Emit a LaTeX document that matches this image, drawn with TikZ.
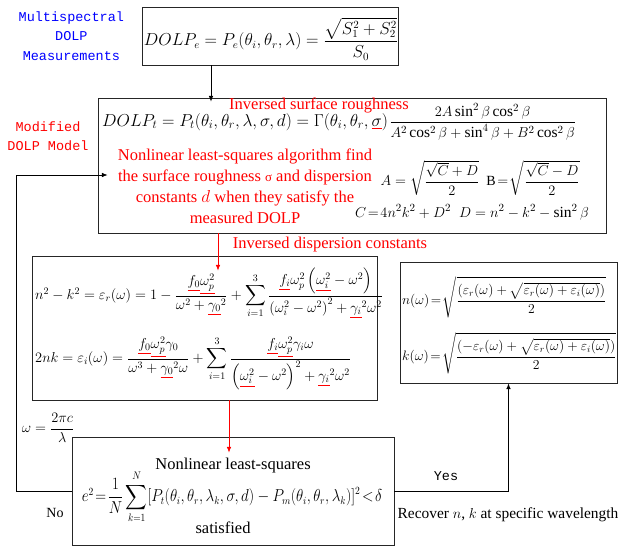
\documentclass[tikz,border=0pt]{standalone}
\usepackage{amsmath}
\usepackage{graphicx}
\usepackage{fontspec}
\setmainfont{Liberation Serif}
\setmonofont{Liberation Mono}
\usetikzlibrary{arrows.meta,positioning}

\newcommand\redul[1]{{\color{red}\underline{{\color{black}#1}}}}

\begin{document}
\begin{tikzpicture}[
  x=1pt, y=-1pt,
  box/.style={draw=black!85, line width=0.9pt, inner sep=0pt},
  arrow/.style={-{Latex[length=2mm,width=1.6mm]}, line width=0.7pt},
  redarrow/.style={arrow, draw=red},
  monolab/.style={font=\ttfamily\fontsize{13.5}{19.5}\selectfont, align=center},
  redtext/.style={text=red, font=\fontsize{16.5}{21}\selectfont, align=center},
  eq/.style={font=\fontsize{15}{18}\selectfont, inner sep=0pt},
  smalleq/.style={font=\fontsize{14}{17}\selectfont, inner sep=0pt},
  plain/.style={font=\fontsize{16.5}{19}\selectfont}
]
\useasboundingbox (0,0) rectangle (619,550);

% boxes
\node[box, minimum width=256pt, minimum height=58pt] (topbox) at (270,36) {};
\node[box, minimum width=508pt, minimum height=135pt] (midbox) at (352,165.5) {};
\node[box, minimum width=345pt, minimum height=144pt] (leftbox) at (204.5,328) {};
\node[box, minimum width=217pt, minimum height=121pt] (rightbox) at (508.5,322.5) {};
\node[box, minimum width=322pt, minimum height=108pt] (botbox) at (233,491) {};

% side labels
\node[monolab, text=blue, left=14pt of topbox] (measlab) {Multispectral\\DOLP\\Measurements};
\node[monolab, text=red] (modlab) at (48,136) {Modified\\DOLP Model};

% measured DOLP
\node[eq, font=\fontsize{16}{19}\selectfont] (eqtop) at (271,39)
  {$DOLP_e = P_e(\theta_i,\theta_r,\lambda) = \dfrac{\sqrt{S_1^2+S_2^2}}{S_0}$};

% DOLP model
\node[eq, anchor=west, font=\fontsize{16.5}{20}\selectfont] (eqmodel) at (102,122)
  {$DOLP_t = P_t(\theta_i,\theta_r,\lambda,\sigma,d) = \Gamma(\theta_i,\theta_r,\redul{\sigma})$};
\node[smalleq, font=\fontsize{15.5}{18}\selectfont, right=1pt of eqmodel] (eqgamma)
  {$\dfrac{2A\sin^2\beta\cos^2\beta}{A^2\cos^2\beta+\sin^4\beta+B^2\cos^2\beta}$};
\node[redtext] (roughlab) at (319,105) {Inversed surface roughness};
\node[redtext] (algtext) at (245,186) {Nonlinear least-squares algorithm find\\
  the surface roughness {\fontsize{13}{21}\selectfont σ} and dispersion\\
  constants $d$ when they satisfy the\\measured DOLP};
\node[smalleq] (eqa) at (430,178)
  {$A=\sqrt{\dfrac{\sqrt{C}+D}{2}}$};
\node[smalleq] (eqb) at (533,178)
  {$\mathrm{B}\!=\!\sqrt{\dfrac{\sqrt{C}-D}{2}}$};
\node[eq, font=\fontsize{15.5}{18}\selectfont] (eqcd) at (472,212) {$C\!=\!4n^2k^2+D^2\;\;D=n^2-k^2-\sin^2\beta$};

% dispersion model
\node[redtext] (displab) at (330,245) {Inversed dispersion constants};
\node[eq, anchor=west, font=\fontsize{14}{17}\selectfont] (epsr) at (35,293)
  {$n^2-k^2=\varepsilon_r(\omega)=1-\dfrac{\redul{f_0}\redul{\omega_p^2}}{\omega^2+\redul{\gamma_0}{}^2}
   +\displaystyle\sum_{i=1}^{3}\dfrac{\redul{f_i}\omega_p^2\left(\redul{\omega_i^2}-\omega^2\right)}
   {\left(\omega_i^2-\omega^2\right)^2+\redul{\gamma_i}{}^2\omega^2}$};
\node[eq, anchor=west, font=\fontsize{14}{17}\selectfont] (epsi) at (35,363)
  {$2nk=\varepsilon_i(\omega)=\dfrac{\redul{f_0}\redul{\omega_p^2}\gamma_0}{\omega^3+\redul{\gamma_0}{}^2\omega}
   +\displaystyle\sum_{i=1}^{3}\dfrac{\redul{f_i}\redul{\omega_p^2}\gamma_i\omega}
   {\left(\redul{\omega_i^2}-\omega^2\right)^2+\redul{\gamma_i}{}^2\omega^2}$};

% n and k
\node[smalleq, anchor=west] (eqn) at (402,297)
  {\scalebox{0.95}{$n(\omega)\!=\!\sqrt{\dfrac{(\varepsilon_r(\omega)+\sqrt{\varepsilon_r(\omega)+\varepsilon_i(\omega)})}{2}}$}};
\node[smalleq, anchor=west] (eqk) at (402,353)
  {\scalebox{0.95}{$k(\omega)\!=\!\sqrt{\dfrac{(-\varepsilon_r(\omega)+\sqrt{\varepsilon_r(\omega)+\varepsilon_i(\omega)})}{2}}$}};

% error criterion
\node[plain] (nlslab) at (233,466) {Nonlinear least-squares};
\node[eq, font=\fontsize{16}{19}\selectfont] (eqerr) at (232,497)
  {\scalebox{0.87}[1]{$e^2\!=\!\dfrac{1}{N}\displaystyle\sum_{k=1}^{N}[P_t(\theta_i,\theta_r,\lambda_k,\sigma,d)-P_m(\theta_i,\theta_r,\lambda_k)]^2\!<\!\delta$}};
\node[plain] (satlab) at (223,528) {satisfied};

\node[eq, font=\fontsize{14}{17}\selectfont] (omega) at (48,428) {$\omega=\dfrac{2\pi c}{\lambda}$};
\node[monolab] (yeslab) at (446,476) {Yes};
\node[plain, font=\fontsize{14}{17}\selectfont] (nolab) at (55,513) {No};
\node[plain, font=\fontsize{15.4}{17}\selectfont] (reclab) at (508,515) {Recover $n$, $k$ at specific wavelength};

% connectors
\draw[arrow] ([xshift=-59pt]topbox.south) -- ([xshift=-141pt,yshift=-4pt]midbox.north);
\draw[redarrow] ([xshift=-134pt]midbox.south) -- ([xshift=13.5pt,yshift=-15pt]leftbox.north);
\draw[redarrow] ([xshift=24.5pt]leftbox.south) -- ([xshift=-4pt,yshift=-16pt]botbox.north);
\draw[arrow] (botbox.east) -| (rightbox.south);
\draw[arrow] (botbox.west) -- ++(-55,0) |- ([xshift=10pt,yshift=-9.5pt]midbox.west);
\end{tikzpicture}
\end{document}
